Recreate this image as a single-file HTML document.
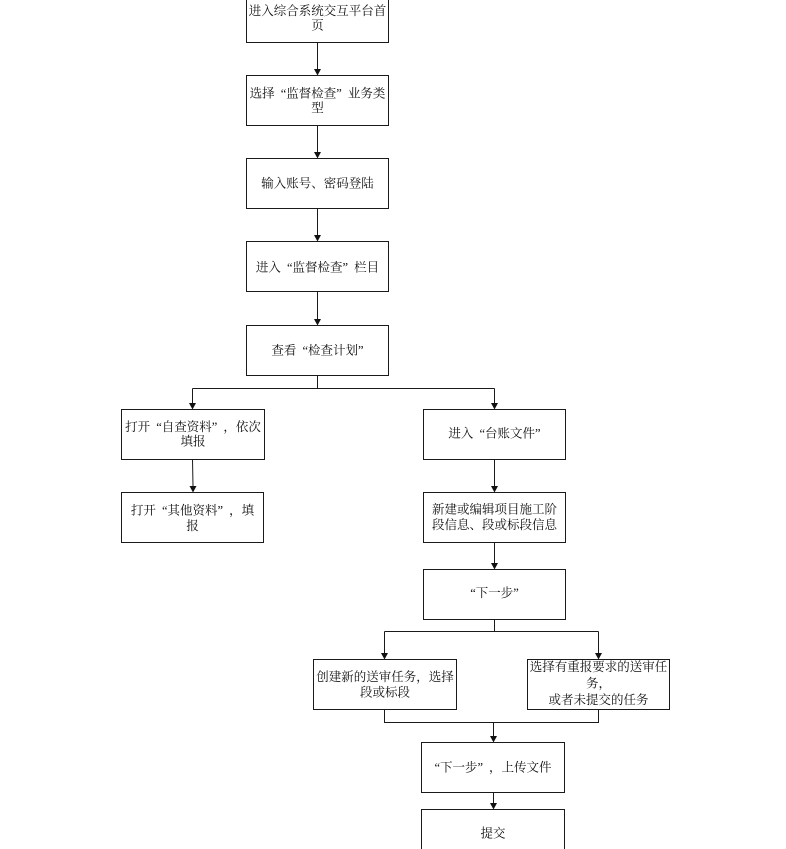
<!DOCTYPE html>
<html>
<head>
<meta charset="utf-8">
<style>
  html, body { margin: 0; padding: 0; background: #fff; }
  svg { display: block; }
  text { font-family: "Liberation Serif", "Noto Serif CJK SC", serif; font-size: 12.5px; fill: #111; }
</style>
</head>
<body>
<svg width="786" height="849" viewBox="0 0 786 849" xmlns="http://www.w3.org/2000/svg">
  <g fill="none" stroke="#1a1a1a" stroke-width="1">
    <rect x="246.5" y="-7.5" width="142" height="50"/>
    <rect x="246.5" y="75.5" width="142" height="50"/>
    <rect x="246.5" y="158.5" width="142" height="50"/>
    <rect x="246.5" y="241.5" width="142" height="50"/>
    <rect x="246.5" y="325.5" width="142" height="50"/>
    <rect x="121.5" y="409.5" width="143" height="50"/>
    <rect x="121.5" y="492.5" width="142" height="50"/>
    <rect x="423.5" y="409.5" width="142" height="50"/>
    <rect x="423.5" y="492.5" width="142" height="50"/>
    <rect x="423.5" y="569.5" width="142" height="50"/>
    <rect x="313.5" y="659.5" width="143" height="50"/>
    <rect x="527.5" y="659.5" width="142" height="50"/>
    <rect x="421.5" y="742.5" width="143" height="50"/>
    <rect x="421.5" y="809.5" width="143" height="50"/>

    <path d="M317.5 42.5 V69"/>
    <path d="M317.5 125.5 V152"/>
    <path d="M317.5 208.5 V235"/>
    <path d="M317.5 291.5 V319"/>
    <path d="M317.5 375.5 V388.5 M192.5 388.5 H494.5 M192.5 388.5 V403 M494.5 388.5 V403"/>
    <path d="M192.5 459.5 L193 486"/>
    <path d="M494.5 459.5 V486"/>
    <path d="M494.5 542.5 V563"/>
    <path d="M494.5 619.5 V631.5 M384.5 631.5 H598.5 M384.5 631.5 V653 M598.5 631.5 V653"/>
    <path d="M384.5 709.5 V722.5 H598.5 V709.5 M493.5 722.5 V736"/>
    <path d="M493.5 792.5 V803"/>
  </g>
  <g fill="#111" stroke="none">
    <polygon points="314,69 321,69 317.5,75.5"/>
    <polygon points="314,152 321,152 317.5,158.5"/>
    <polygon points="314,235 321,235 317.5,241.5"/>
    <polygon points="314,319 321,319 317.5,325.5"/>
    <polygon points="189,403 196,403 192.5,409.5"/>
    <polygon points="491,403 498,403 494.5,409.5"/>
    <polygon points="189.5,486 196.5,486 193,492.5"/>
    <polygon points="491,486 498,486 494.5,492.5"/>
    <polygon points="491,563 498,563 494.5,569.5"/>
    <polygon points="381,653 388,653 384.5,659.5"/>
    <polygon points="595,653 602,653 598.5,659.5"/>
    <polygon points="490,736 497,736 493.5,742.5"/>
    <polygon points="490,803 497,803 493.5,809.5"/>
  </g>

  <g text-anchor="middle">
    <text x="317.5" y="15">进入综合系统交互平台首</text>
    <text x="317.5" y="29.5">页</text>

    <text x="317.5" y="97.5">选择<tspan dx="6">“</tspan>监督检查”<tspan dx="6">业务类</tspan></text>
    <text x="317.5" y="112">型</text>

    <text x="317.5" y="187.5">输入账号、密码登陆</text>
    <text x="317.5" y="271.5">进入<tspan dx="6">“</tspan>监督检查”<tspan dx="6">栏目</tspan></text>
    <text x="317.5" y="354.5">查看<tspan dx="6">“</tspan>检查计划<tspan dx="0">”</tspan><tspan dx="6"> </tspan></text>

    <text x="193" y="431">打开<tspan dx="6">“</tspan>自查资料”<tspan dx="6">，依次</tspan></text>
    <text x="193" y="445.5">填报</text>

    <text x="192.5" y="514.5">打开<tspan dx="6">“</tspan>其他资料”<tspan dx="6">，填</tspan></text>
    <text x="192.5" y="530">报</text>

    <text x="494.5" y="437.5">进入<tspan dx="6">“</tspan>台账文件”<tspan dx="6"> </tspan></text>

    <text x="494.5" y="513.5">新建或编辑项目施工阶</text>
    <text x="494.5" y="529">段信息、段或标段信息</text>

    <text x="494.5" y="597">“下一步”</text>

    <text x="385" y="681">创建新的送审任务，选择</text>
    <text x="385" y="696.5">段或标段</text>

    <text x="598.5" y="671">选择有重报要求的送审任</text>
    <text x="598.5" y="687.5">务，</text>
    <text x="598.5" y="704">或者未提交的任务</text>

    <text x="493" y="771.5">“下一步”<tspan dx="6">，上传文件</tspan></text>
    <text x="493" y="837.5">提交</text>
  </g>
</svg>
</body>
</html>
